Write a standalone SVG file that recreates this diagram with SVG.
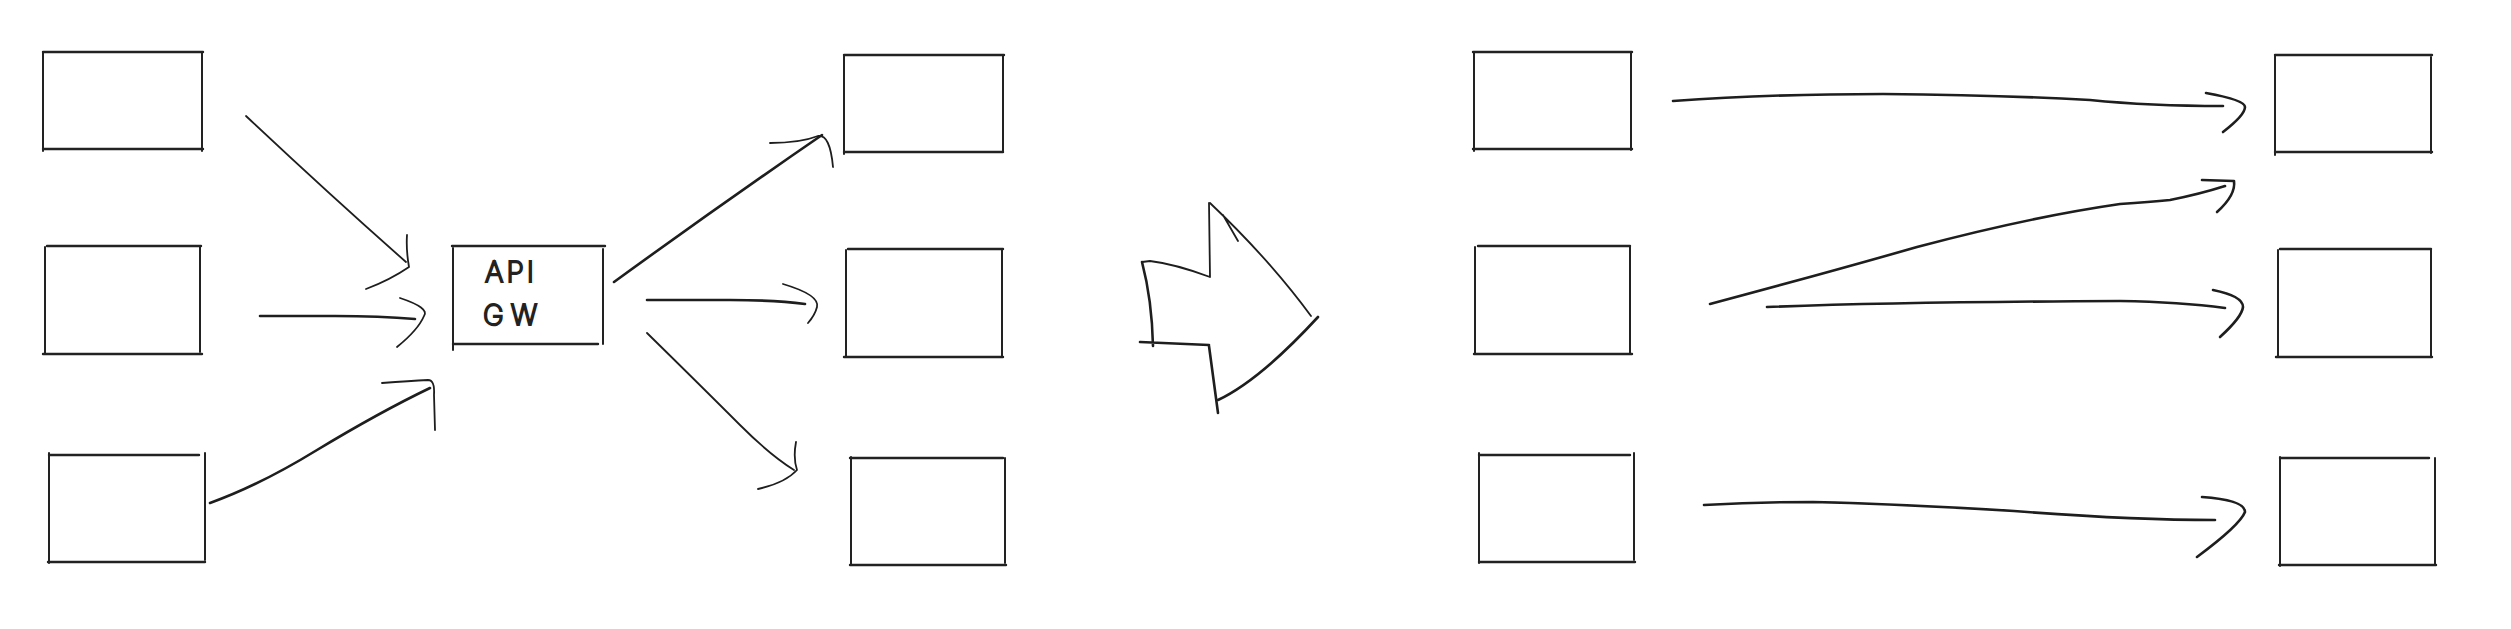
<svg xmlns="http://www.w3.org/2000/svg" width="2511" height="629" viewBox="0 0 2511 629">
<style>
.bx{fill:none;stroke:#222;stroke-width:2;stroke-linecap:round}
.bx .h{stroke-width:2.4}
.ar{fill:none;stroke:#1e1e1e;stroke-width:2.6;stroke-linecap:round;stroke-linejoin:round}
.thin{stroke-width:1.8}
.lbl{font-family:Inter,Lato,"Liberation Sans",sans-serif;font-size:28px;fill:#333;font-weight:200}
</style>
<rect width="2511" height="629" fill="#fff"/>
<g id="box-L1" class="bx"><path class="h" d="M43 52H203M43 149H203"/><path d="M43 52V151M202 53V151"/></g>
<g id="box-L2" class="bx"><path class="h" d="M47 246H201M43 354H202"/><path d="M45 247V354M200 247V352"/></g>
<g id="box-L3" class="bx"><path class="h" d="M49 455H199M48 562H205"/><path d="M49 453V563M205 453V560"/></g>
<g id="box-GW" class="bx"><path class="h" d="M452 246H605M453 344H598"/><path d="M453 248V350M603 249V344"/>
<text class="lbl" x="485" y="282" letter-spacing="3">API</text>
<text class="lbl" x="483" y="325" letter-spacing="7">GW</text></g>
<g id="box-M1" class="bx"><path class="h" d="M844 55H1004M844 152H1003"/><path d="M844 56V154M1003 56V152"/></g>
<g id="box-M2" class="bx"><path class="h" d="M848 249H1003M844 357H1003"/><path d="M846 250V357M1002 250V356"/></g>
<g id="box-M3" class="bx"><path class="h" d="M850 458H1003M850 565H1006"/><path d="M851 457V565M1005 458V563"/></g>
<g id="box-R1a" class="bx"><path class="h" d="M1473 52H1632M1473 149H1632"/><path d="M1474 53V151M1631 53V150"/></g>
<g id="box-R1b" class="bx"><path class="h" d="M1478 246H1630M1474 354H1632"/><path d="M1475 247V354M1630 247V353"/></g>
<g id="box-R1c" class="bx"><path class="h" d="M1479 455H1630M1479 562H1635"/><path d="M1479 453V563M1634 453V560"/></g>
<g id="box-R2a" class="bx"><path class="h" d="M2275 55H2432M2275 152H2432"/><path d="M2275 56V155M2431 57V153"/></g>
<g id="box-R2b" class="bx"><path class="h" d="M2280 249H2431M2276 357H2432"/><path d="M2278 250V357M2431 250V356"/></g>
<g id="box-R2c" class="bx"><path class="h" d="M2280 458H2429M2279 565H2436"/><path d="M2280 457V566M2435 458V564"/></g>
<g id="big-arrow" class="ar">
<path class="thin" d="M1142 262L1150 261Q1175 264 1210 277M1210 277L1209 203"/>
<path d="M1142 262Q1152 300 1153 346M1140 342L1209 345M1209 346L1218 413"/>
<path class="thin" d="M1210 203Q1270 260 1311 316M1223 215L1238 241"/>
<path d="M1318 317Q1260 380 1218 400"/>
</g>
<g id="connectors" class="ar">
<path class="thin" d="M246 116Q330 195 406 262"/>
<path class="thin" d="M407 235Q406 250 409 267Q390 280 366 289"/>
<path d="M260 316L335 316Q380 316 415 319"/>
<path class="thin" d="M400 298Q430 308 424 316Q418 330 397 347"/>
<path d="M210 503Q260 485 317 450Q380 412 430 388"/>
<path class="thin" d="M382 383Q410 381 428 380Q435 380 434 395L435 430"/>
<path d="M614 282Q720 205 822 135"/>
<path class="thin" d="M770 143Q800 143 818 136Q830 134 833 167"/>
<path d="M647 300L730 300Q775 300 805 304"/>
<path class="thin" d="M783 284Q820 295 817 307Q815 315 808 323"/>
<path class="thin" d="M647 333Q700 385 740 425Q770 455 794 470"/>
<path class="thin" d="M796 442Q793 458 797 470Q785 483 758 489"/>
<path d="M1673 101Q1770 94 1883 94Q2000 95 2090 100Q2150 106 2223 106"/>
<path d="M2206 93Q2245 100 2245 107Q2245 115 2223 132"/>
<path d="M1710 304Q1830 272 1917 247Q2030 217 2120 204Q2150 202 2170 200Q2200 194 2225 186"/>
<path d="M2202 180L2234 181Q2236 195 2217 212"/>
<path d="M1767 307Q1900 302 2120 301Q2180 302 2225 308"/>
<path d="M2213 290Q2243 296 2243 307Q2242 317 2220 337"/>
<path d="M1704 505Q1760 502 1813 502Q1900 504 2014 511Q2130 520 2215 520"/>
<path d="M2202 497Q2245 500 2245 512Q2240 525 2197 557"/>
</g>
</svg>
